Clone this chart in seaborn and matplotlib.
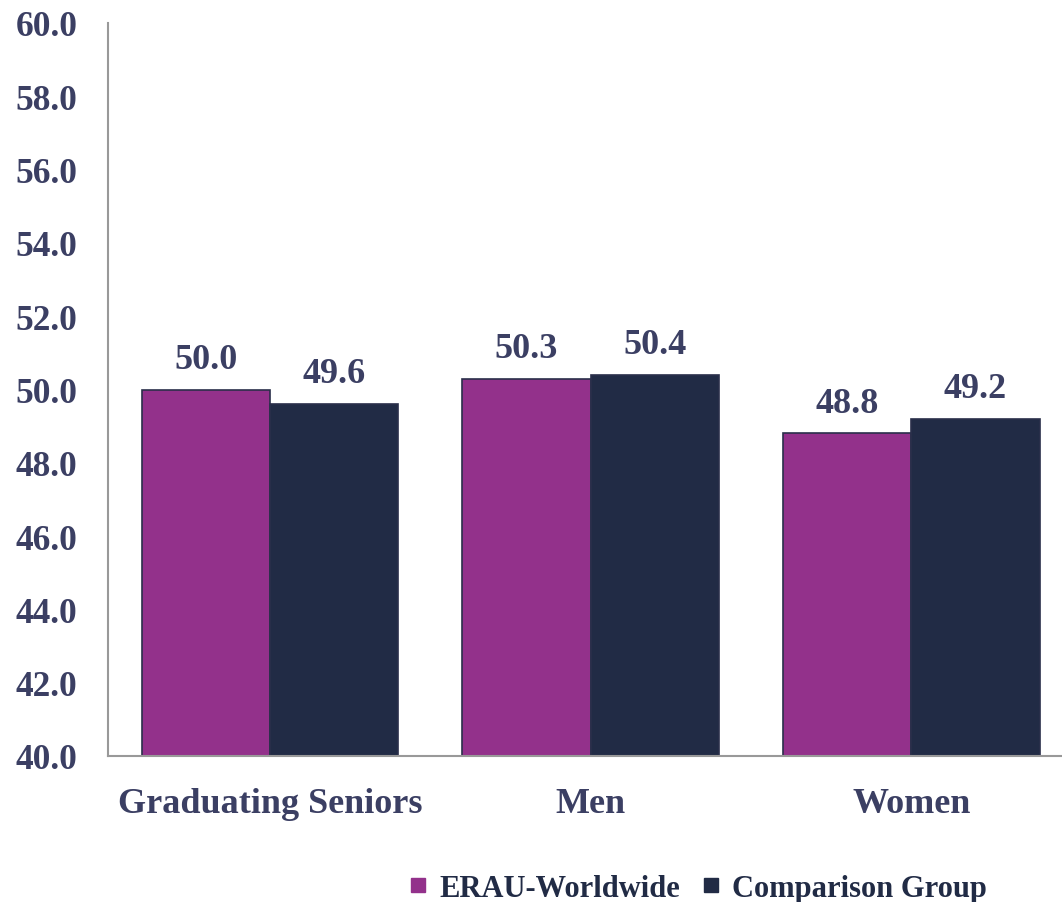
import matplotlib.pyplot as plt
import seaborn as sns
import pandas as pd
from matplotlib.lines import Line2D

categories = ["Graduating Seniors", "Men", "Women"]
groups = ["ERAU-Worldwide", "Comparison Group"]
erau = [50.0, 50.3, 48.8]
comparison = [49.6, 50.4, 49.2]

df = pd.DataFrame({
    "category": categories * 2,
    "group": [groups[0]] * 3 + [groups[1]] * 3,
    "value": erau + comparison,
})

colors = {"ERAU-Worldwide": "#93318B", "Comparison Group": "#212B45"}
text_color = "#3B3F63"

sns.set_style("white")
plt.rcParams["font.family"] = ["Liberation Serif", "DejaVu Serif"]
plt.rcParams["font.weight"] = "bold"

fig = plt.figure(figsize=(10.62, 9.03), dpi=100)
ax = fig.add_axes([108 / 1062, 146 / 903, 954 / 1062, 733 / 903])

sns.barplot(data=df, x="category", y="value", hue="group", palette=colors,
            saturation=1, width=0.8, edgecolor="#2a2f4a", linewidth=1.2,
            legend=False, ax=ax)

ax.set_ylim(40, 60)
ax.set_xlim(-0.505, 2.47)
ax.set_yticks([40 + 2 * i for i in range(11)])
ax.set_yticklabels([f"{40 + 2 * i:.1f}" for i in range(11)])
ax.tick_params(axis="y", labelsize=25.5, labelcolor=text_color, length=0, pad=22)
ax.tick_params(axis="x", labelsize=26, labelcolor=text_color, length=0, pad=22)
for lbl in ax.get_yticklabels() + ax.get_xticklabels():
    lbl.set_fontweight("bold")
ax.set_xlabel("")
ax.set_ylabel("")

for side in ["top", "right"]:
    ax.spines[side].set_visible(False)
for side in ["left", "bottom"]:
    ax.spines[side].set_color("#999999")
    ax.spines[side].set_linewidth(1.5)

for cont in ax.containers:
    ax.bar_label(cont, fmt="%.1f", padding=10, fontsize=26,
                 color=text_color, fontweight="bold")

handles = [Line2D([], [], marker="s", linestyle="", markersize=10,
                  markerfacecolor=colors[g], markeredgecolor=colors[g]) for g in groups]
fig.legend(handles, groups, loc="center", bbox_to_anchor=(0.656, 0.015),
           ncol=2, frameon=False, handlelength=0.8, handletextpad=0.3,
           columnspacing=0.6, prop={"size": 22, "weight": "bold"},
           labelcolor="#212B45")

fig.savefig("out.png", dpi=100)
